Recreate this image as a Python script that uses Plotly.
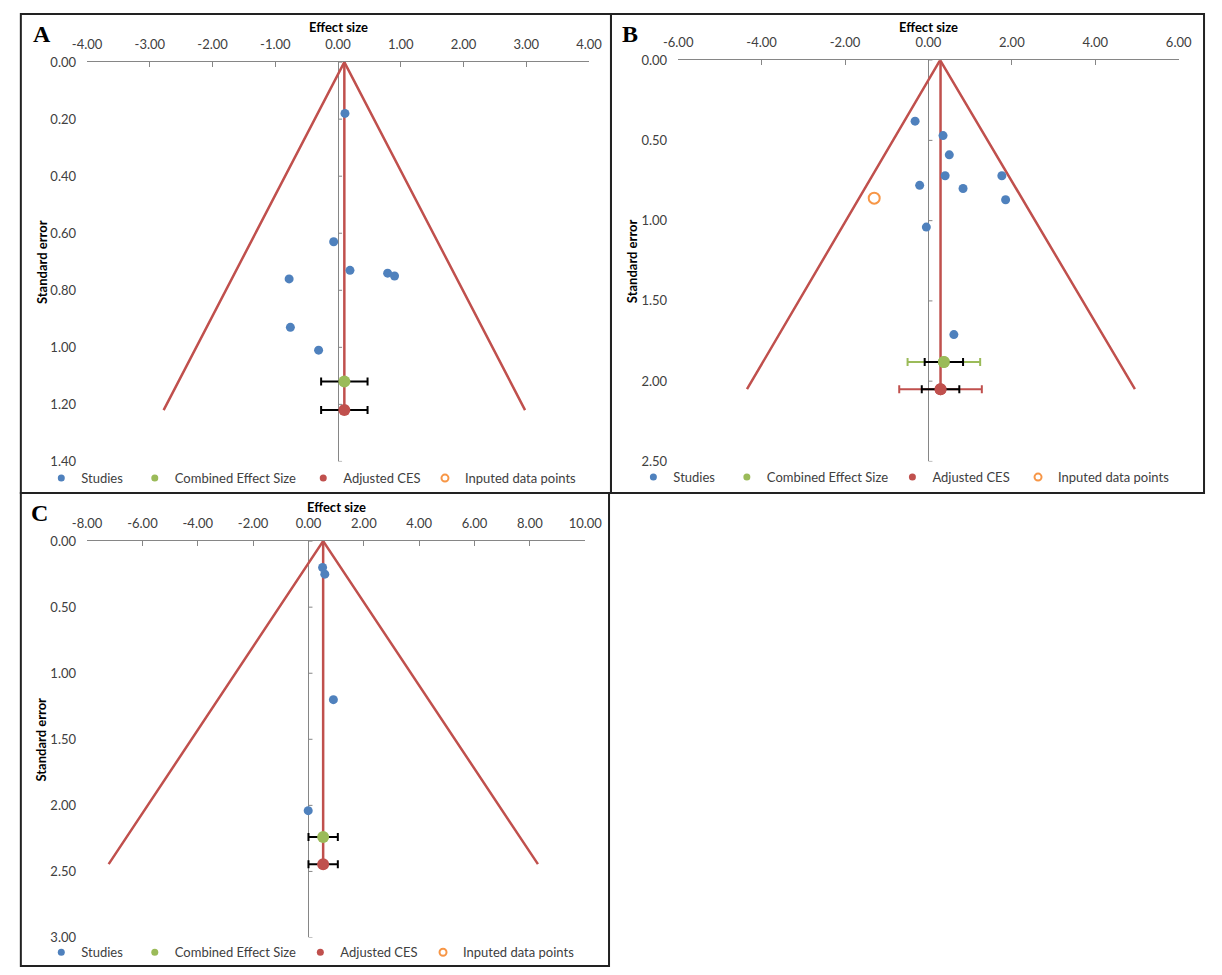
import plotly.graph_objects as go

W, H = 1222, 975

# ---------------- Panel A data ----------------
a_studies_es = [0.11, -0.07, 0.19, -0.78, 0.79, 0.90, -0.76, -0.31]
a_studies_se = [0.18, 0.63, 0.73, 0.76, 0.74, 0.75, 0.93, 1.01]
a_ces_es, a_ces_se, a_ces_ci = [0.10], [1.12], [0.37]
a_adj_es, a_adj_se, a_adj_ci = [0.10], [1.22], [0.37]
a_funnel_es = [-2.78, 0.10, 2.98]
a_funnel_se = [1.22, 0.00, 1.22]
a_xticks = [-4, -3, -2, -1, 0, 1, 2, 3, 4]
a_yticks = [0.0, 0.2, 0.4, 0.6, 0.8, 1.0, 1.2, 1.4]

# ---------------- Panel B data ----------------
b_studies_es = [-0.32, 0.35, 0.50, 0.40, 1.76, -0.21, 0.83, 1.85, -0.05, 0.61]
b_studies_se = [0.38, 0.47, 0.59, 0.72, 0.72, 0.78, 0.80, 0.87, 1.04, 1.71]
b_imputed_es, b_imputed_se = [-1.30], [0.86]
b_ces_es, b_ces_se, b_ces_ci, b_ces_ci_outer = [0.37], [1.88], [0.46], [0.87]
b_adj_es, b_adj_se, b_adj_ci, b_adj_ci_outer = [0.29], [2.05], [0.45], [0.99]
b_funnel_es = [-4.35, 0.28, 4.95]
b_funnel_se = [2.05, 0.00, 2.05]
b_xticks = [-6, -4, -2, 0, 2, 4, 6]
b_yticks = [0.0, 0.5, 1.0, 1.5, 2.0, 2.5]

# ---------------- Panel C data ----------------
c_studies_es = [0.51, 0.59, 0.90, -0.01]
c_studies_se = [0.20, 0.25, 1.20, 2.04]
c_ces_es, c_ces_se, c_ces_ci = [0.53], [2.24], [0.53]
c_adj_es, c_adj_se, c_adj_ci = [0.53], [2.445], [0.53]
c_funnel_es = [-7.22, 0.53, 8.29]
c_funnel_se = [2.445, 0.00, 2.445]
c_xticks = [-8, -6, -4, -2, 0, 2, 4, 6, 8, 10]
c_yticks = [0.0, 0.5, 1.0, 1.5, 2.0, 2.5, 3.0]

legend_names = ["Studies", "Combined Effect Size", "Adjusted CES", "Inputed data points"]

BLUE, GREEN, RED, ORANGE = "#4F81BD", "#9BBB59", "#C0504D", "#F79646"
AXIS = "#868686"
TXT = "#404040"
FONT = "Lato"
FS = 13

fig = go.Figure()


def px_x(p):
    return p / W


def px_y(p):
    return 1 - p / H


panels = [
    dict(key="A", xa="x", ya="y", xdom=(74, 589.5), ydom=(55, 461),
         se=a_studies_se, es=a_studies_es, ces=(a_ces_es, a_ces_se, a_ces_ci, None),
         adj=(a_adj_es, a_adj_se, a_adj_ci, None), imp=None,
         fes=a_funnel_es, fse=a_funnel_se, xt=a_xticks, yt=a_yticks,
         box=(6, 612, 6, 493), letter=(28, 26), xtitle_y=19, ytitle_x=27,
         leg_y=478, leg_x=[57, 153, 326, 451]),
    dict(key="B", xa="x2", ya="y2", xdom=(681, 1195), ydom=(53, 461),
         se=b_studies_se, es=b_studies_es, ces=(b_ces_es, b_ces_se, b_ces_ci, b_ces_ci_outer),
         adj=(b_adj_es, b_adj_se, b_adj_ci, b_adj_ci_outer), imp=(b_imputed_es, b_imputed_se),
         fes=b_funnel_es, fse=b_funnel_se, xt=b_xticks, yt=b_yticks,
         box=(612, 1221, 6, 493), letter=(632, 26), xtitle_y=19, ytitle_x=633,
         leg_y=477, leg_x=[665, 761, 931, 1060]),
    dict(key="C", xa="x3", ya="y3", xdom=(74, 585.6), ydom=(542, 945),
         se=c_studies_se, es=c_studies_es, ces=(c_ces_es, c_ces_se, c_ces_ci, None),
         adj=(c_adj_es, c_adj_se, c_adj_ci, None), imp=None,
         fes=c_funnel_es, fse=c_funnel_se, xt=c_xticks, yt=c_yticks,
         box=(6, 610, 493, 974), letter=(25, 513), xtitle_y=507, ytitle_x=27,
         leg_y=960, leg_x=[57, 153, 323, 449]),
]

shapes = []
annotations = []
layout_extra = {}
legend_counter = 0

for p in panels:
    xa, ya = p["xa"], p["ya"]
    # funnel (pseudo-confidence limits)
    fig.add_trace(go.Scatter(x=p["fes"], y=p["fse"], mode="lines", xaxis=xa, yaxis=ya,
                             line=dict(color=RED, width=2.5), showlegend=False, hoverinfo="skip"))
    # vertical line from the apex down to the adjusted CES
    adj_es, adj_se, adj_ci, adj_out = p["adj"]
    fig.add_trace(go.Scatter(x=[adj_es[0], adj_es[0]], y=[0, adj_se[0]], mode="lines",
                             xaxis=xa, yaxis=ya, line=dict(color=RED, width=2.5),
                             showlegend=False, hoverinfo="skip"))
    # studies
    fig.add_trace(go.Scatter(x=p["es"], y=p["se"], mode="markers", xaxis=xa, yaxis=ya,
                             marker=dict(color=BLUE, size=9), name="Studies", showlegend=False))
    # imputed points
    if p["imp"] is not None:
        fig.add_trace(go.Scatter(x=p["imp"][0], y=p["imp"][1], mode="markers", xaxis=xa, yaxis=ya,
                                 marker=dict(symbol="circle-open", color=ORANGE, size=11,
                                             line=dict(width=2, color=ORANGE)),
                                 name="Inputed data points", showlegend=False))
    # combined and adjusted effect sizes with their intervals
    for (vals, col, nm) in [(p["ces"], GREEN, "Combined Effect Size"), (p["adj"], RED, "Adjusted CES")]:
        es, se, ci, out = vals
        if out is not None:
            fig.add_trace(go.Scatter(x=es, y=se, mode="markers", xaxis=xa, yaxis=ya,
                                     marker=dict(color=col, size=12),
                                     error_x=dict(type="data", array=out, color=col,
                                                  thickness=2, width=4),
                                     name=nm, showlegend=False))
        fig.add_trace(go.Scatter(x=es, y=se, mode="markers", xaxis=xa, yaxis=ya,
                                 marker=dict(color=col, size=12),
                                 error_x=dict(type="data", array=ci, color="black",
                                              thickness=2, width=4),
                                 name=nm, showlegend=False))

    # legends: one per entry so each sits where the original does
    leg_specs = [
        dict(symbol="circle", color=BLUE, line=dict(width=0)),
        dict(symbol="circle", color=GREEN, line=dict(width=0)),
        dict(symbol="circle", color=RED, line=dict(width=0)),
        dict(symbol="circle-open", color=ORANGE, line=dict(width=2, color=ORANGE)),
    ]
    for name, mk, lx in zip(legend_names, leg_specs, p["leg_x"]):
        legend_counter += 1
        lid = "legend" if legend_counter == 1 else f"legend{legend_counter}"
        fig.add_trace(go.Scatter(x=[None], y=[None], mode="markers", xaxis=xa, yaxis=ya,
                                 marker=dict(size=7, **mk), name=name, legend=lid,
                                 showlegend=True))
        layout_extra[lid] = dict(x=px_x(lx - 30), y=px_y(p["leg_y"]), xanchor="left",
                                 yanchor="middle", orientation="h",
                                 bgcolor="rgba(0,0,0,0)", borderwidth=0,
                                 font=dict(family=FONT, size=FS, color=TXT),
                                 itemwidth=30)

    xkey = "xaxis" if xa == "x" else "xaxis" + xa[1:]
    ykey = "yaxis" if ya == "y" else "yaxis" + ya[1:]
    layout_extra[xkey] = dict(
        domain=[px_x(p["xdom"][0]), px_x(p["xdom"][1])],
        range=[p["xt"][0], p["xt"][-1]], anchor=ya, side="top",
        tickvals=p["xt"], ticktext=[f"{v:.2f}" for v in p["xt"]],
        showline=True, linecolor=AXIS, linewidth=1,
        ticks="inside", ticklen=5, tickcolor=AXIS, tickwidth=1,
        showgrid=False, zeroline=True, zerolinecolor=AXIS, zerolinewidth=1,
        tickfont=dict(family=FONT, size=FS, color=TXT), ticklabelstandoff=7,
    )
    layout_extra[ykey] = dict(
        domain=[px_y(p["ydom"][1]), px_y(p["ydom"][0])],
        range=[p["yt"][-1], p["yt"][0]], anchor=xa,
        tickvals=p["yt"], ticktext=[f"{v:.2f}" for v in p["yt"]],
        showline=False, ticks="", showgrid=False, zeroline=False,
        tickfont=dict(family=FONT, size=FS, color=TXT), ticklabelstandoff=10,
    )
    # small tick marks on the vertical axis line at x = 0
    for t in p["yt"]:
        shapes.append(dict(type="line", xref=xa, yref=ya, xsizemode="pixel", xanchor=0,
                           x0=0, x1=4, y0=t, y1=t, line=dict(color=AXIS, width=1)))
    # panel frame
    bx0, bx1, by0, by1 = p["box"]
    shapes.append(dict(type="rect", xref="paper", yref="paper",
                       x0=px_x(bx0), x1=px_x(bx1), y0=px_y(by1), y1=px_y(by0),
                       line=dict(color="#222222", width=2), fillcolor="rgba(0,0,0,0)"))
    # panel letter
    annotations.append(dict(text=f"<b>{p['key']}</b>", xref="paper", yref="paper",
                            x=px_x(p["letter"][0]), y=px_y(p["letter"][1]),
                            xanchor="center", yanchor="middle", showarrow=False,
                            font=dict(family="Liberation Serif", size=24, color="black")))
    # axis titles
    annotations.append(dict(text="<b>Effect size</b>", xref="paper", yref="paper",
                            x=px_x((p["xdom"][0] + p["xdom"][1]) / 2), y=px_y(p["xtitle_y"]),
                            xanchor="center", yanchor="middle", showarrow=False,
                            font=dict(family=FONT, size=FS, color="black")))
    annotations.append(dict(text="<b>Standard error</b>", xref="paper", yref="paper",
                            x=px_x(p["ytitle_x"]), y=px_y((p["ydom"][0] + p["ydom"][1]) / 2),
                            xanchor="center", yanchor="middle", showarrow=False, textangle=-90,
                            font=dict(family=FONT, size=FS, color="black")))

fig.update_layout(
    width=W, height=H, margin=dict(l=0, r=0, t=0, b=0),
    paper_bgcolor="white", plot_bgcolor="white",
    shapes=shapes, annotations=annotations, **layout_extra,
)

fig.write_html(
    "out.html",
    config={"displayModeBar": False},
    post_script="document.body.style.margin='0';document.body.style.padding='0';"
                "document.body.style.overflow='hidden';",
)
